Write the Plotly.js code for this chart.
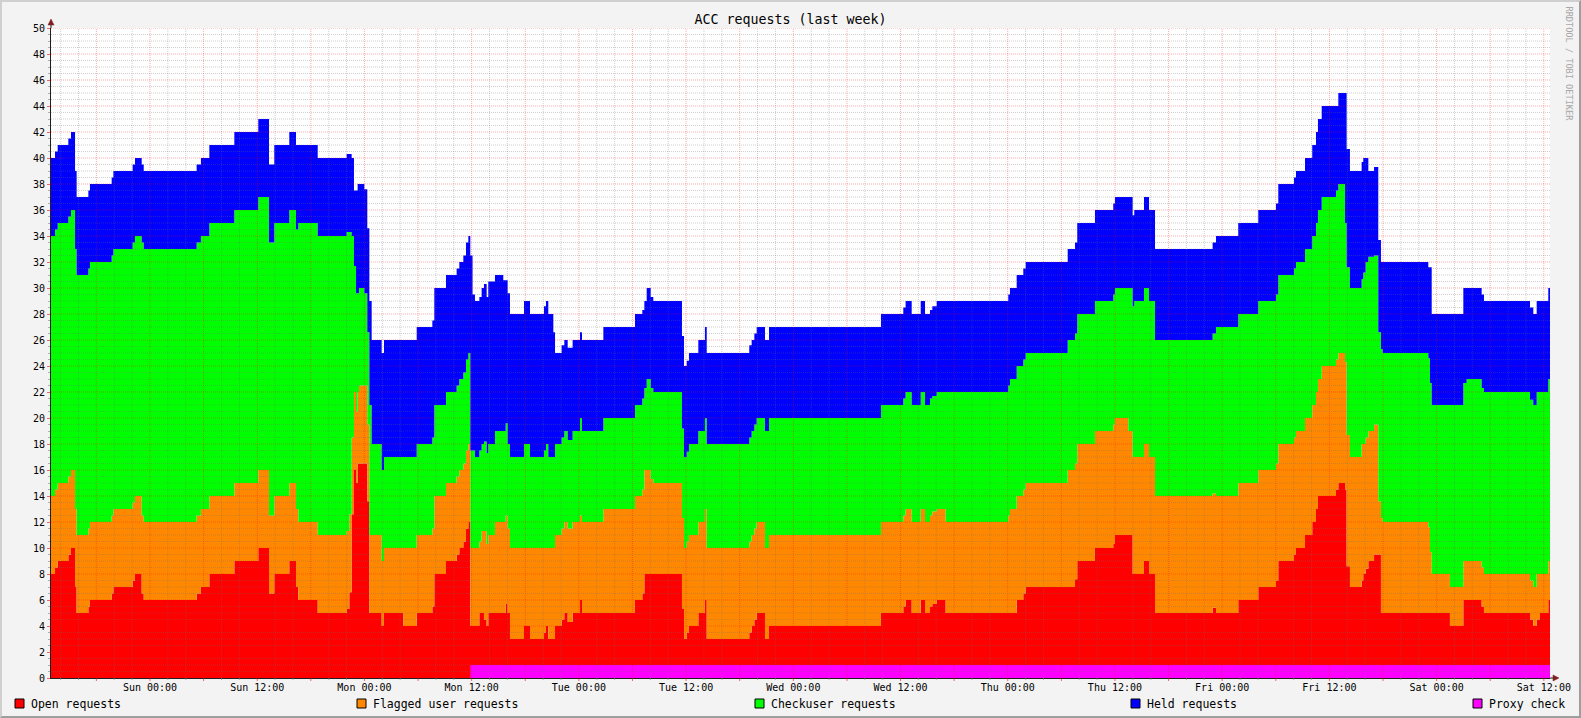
<!DOCTYPE html>
<html><head><meta charset="utf-8">
<script src="https://cdn.plot.ly/plotly-3.0.1.min.js"></script>
<style>
html,body{margin:0;padding:0;background:#f3f3f3;}
#frame{position:absolute;left:0;top:0;width:1581px;height:718px;box-sizing:border-box;border-top:2px solid #cfcfcf;border-left:2px solid #cfcfcf;border-right:2px solid #9e9e9e;border-bottom:2px solid #9e9e9e;background:#f3f3f3;}
#chart{width:1577px;height:714px;}
</style></head><body><div id="frame"><div id="chart"></div></div>
<script>
// time of each sample, in hours relative to Sunday 00:00
const hours = [
-11.08,-10.63,-10.33,-9.14,-8.84,-8.39,-8.21,-6.90,-6.72,-4.29,
-4.10,-1.94,-1.68,-0.93,-0.70,5.22,5.70,6.64,9.44,12.12,
13.32,13.91,15.59,16.34,16.60,18.77,22.01,22.31,22.57,22.83,
23.06,23.24,23.39,23.99,24.32,24.55,24.81,25.93,26.19,28.35,
29.85,31.60,31.82,33.13,34.32,34.62,35.07,35.37,35.63,35.85,
36.10,36.37,36.86,37.12,37.38,37.68,37.86,38.61,39.54,39.81,
40.03,40.29,41.86,42.53,44.10,44.32,44.58,45.14,45.33,46.07,
46.37,46.75,47.30,48.13,48.35,50.74,54.28,55.10,55.33,55.59,
56.04,56.33,59.54,59.77,60.07,60.32,61.37,62.11,62.31,67.07,
67.34,67.64,67.90,68.83,69.28,81.81,84.31,84.57,85.25,86.26,
86.74,87.30,87.56,88.05,89.05,96.06,96.25,97.00,97.74,98.01,
102.71,103.53,103.78,105.76,107.81,108.00,109.49,109.98,110.16,111.25,
111.81,112.48,118.93,119.31,121.80,124.04,126.02,126.28,128.04,128.26,
129.27,130.08,130.50,130.72,131.14,132.74,133.00,133.75,133.93,134.30,
135.61,135.79,136.06,136.36,137.00,137.47,137.77,137.96,143.07,143.26,
143.45,145.49,146.99,147.36,149.04,149.30,154.45,154.82,155.20,155.57,
156.50,156.69];

const openReq = [
8,8.5,9,9.5,10,7,5,5.5,6,6.5,
7,7.5,8,6.5,6,6.5,7,8,9,10,
6.5,8,9,7,6,5,5.3,6.6,12.6,16,
15,16.5,16.5,16.5,13.6,5,5,4,5,4,
5,5.5,8,9,9.5,10,10.5,11.5,12,4,
4,4,5,5,4.5,4,5,5,5,5.7,
5,3,4,3,3.5,4,3,3,4,4.5,
5,4.3,5,6,5,5,6,6.5,8,8,
8,8,5.3,3,3.5,4,5,6,3,3.5,
4,4.5,5,3,4,5,5.5,6,5,6,
5,5.5,5.7,6,5,5,5,6,6.5,7,
7,7.6,9,10,10.3,11,11,8,8,9,
8,5,5.4,5,6,7,7.5,9,9.5,10,
11,12,13,14,14,14.5,15,14.5,8.6,7,
7.5,8,8.4,9,9.5,9.5,5,5,5,5,
5,4,6,6,5.5,5,4.5,4,4.5,5,
6,6];

const flaggedReq = [
6,6,6,6,6,6,6,6,6,6,
6,6,6,6,6,6,6,6,6,6,
6,6,6,6,6,6,6,6,5.9,6,
5.5,5.5,6,6,5.9,6,6,5,5,6,
6,6,6,6,6,6,6,6,6,6,
6,6,5.5,6.3,6.8,6.3,6,7,7,6.8,
6.5,7,6,7,6.5,6,7,7,7,7,
7,7.2,7,6.5,7,8,8,8,8,8,
7.3,7,7,7,7,7,7,7,7,7,
7,7,7,7,7,7,7,7,7,7,
7,7,7.1,7,7,7.5,8,8,8,8,
9,8.9,9,9,9.2,9,8,9,9,9,
9,9,8.8,9,9,9,9,9,9,9,
9,9,9,9,10,10,10,9.8,10.1,10,
10.5,10,10.1,10,10,4.1,7.3,7,6.6,4.7,
3,3,3,3,3,3,3,3,3.5,3,
3,3];

const checkuserReq = [
20,20,20,20,20,20,20,20,20,20,
20,20,20,21,21,21,21,21,21,21,
21,21,21,21.5,23,23,23,21.7,15.5,9.7,
9.1,7.6,7.5,7.1,7.1,10,7,7,7,7,
7,7,7,7,7,7,7,7,7,7.5,
7.5,7,7,6.7,6.9,7,7,7,7,7.1,
6.5,7,8,7,7.5,8,7,7,7,7,
7,6.8,7,7.5,7,7,7,7,6.3,7,
7,7,6.9,7,6.9,7,7,7,8,8,
8,8,8,9,9,9,9,9,9,9,
9,9,8.9,9,10,10,10,10,10,10,
10,10,10,10,10,10,11,11.6,12,12,
12,12,12.3,13,13,13,13,13,13,13,
13,13,13,13,13,13,13,10.7,12.9,13,
12.7,13.2,13.5,13.4,13,13,13,13,13,13,
13,14,13.7,14,13.8,14,13.9,14,14,14,
14,14];

const heldReq = [
6,6,6,6,6,6,6,6,6,6,
6,6,6,6,6,6,6,6,6,6,
6,6,6,6.5,6,6,6,6,6,5.8,
7.9,8.4,8,8,8,8,8,9,9,9,
9,9,9,9,9,9,9,9,9,15,
12,12,11.8,12,12.1,12,12.5,12,11.6,11,
11.6,11,11,11,11.1,11,11,9.6,7,7.1,
7,7.1,7,6.6,7,7,7,6.8,6.7,7,
7,7,7.1,7,7,7,7,7,7,7.1,
7,7,7,7,7,7,7,7,7,7,
7,6.8,6.9,7,7,7,7,7,7,7,
7,7,7,7,7,7,7,7,7,7,
7,7,7,7,7,7,7,7,7,7,
7,7,7,7,7,6.5,7,10,9.1,9,
9,8.8,8,6.6,6.8,7.1,6.7,7,7,8.9,
7,7,7.3,7,7.2,7,7.1,7,7,7,
7,7];

const proxyCheck = [
0,0,0,0,0,0,0,0,0,0,
0,0,0,0,0,0,0,0,0,0,
0,0,0,0,0,0,0,0,0,0,
0,0,0,0,0,0,0,0,0,0,
0,0,0,0,0,0,0,0,0,1,
1,1,1,1,1,1,1,1,1,1,
1,1,1,1,1,1,1,1,1,1,
1,1,1,1,1,1,1,1,1,1,
1,1,1,1,1,1,1,1,1,1,
1,1,1,1,1,1,1,1,1,1,
1,1,1,1,1,1,1,1,1,1,
1,1,1,1,1,1,1,1,1,1,
1,1,1,1,1,1,1,1,1,1,
1,1,1,1,1,1,1,1,1,1,
1,1,1,1,1,1,1,1,1,1,
1,1,1,1,1,1,1,1,1,1,
1,1];

const seriesNames = ['Open requests','Flagged user requests','Checkuser requests','Held requests','Proxy check'];
const seriesColors = ['#ff0000','#ff8800','#00ff00','#0000ff','#ff00ff'];

const xTickHours = [0,12,24,36,48,60,72,84,96,108,120,132,144,156];
const xTickLabels = ['Sun 00:00','Sun 12:00','Mon 00:00','Mon 12:00','Tue 00:00','Tue 12:00',
  'Wed 00:00','Wed 12:00','Thu 00:00','Thu 12:00','Fri 00:00','Fri 12:00','Sat 00:00','Sat 12:00'];

const chartTitle = 'ACC requests (last week)';
const sideText = 'RRDTOOL / TOBI OETIKER';

// ---------- helpers ----------
const BASE = Date.UTC(2024,0,7,0,0,0); // a Sunday 00:00
function toDate(h){ return new Date(BASE + h*3600000).toISOString().slice(0,19).replace('T',' '); }
const times = hours.map(toDate);
const startH = hours[0], endH = hours[hours.length-1];

// page pixel -> paper coords (plot area: left 51, top 28, width 1499, height 650 in page)
const PL=51, PT=28, PW=1499, PH=650;
const px = X => (X-PL)/PW;
const py = Y => (PT+PH-Y)/PH;

const FONT = 'DejaVu Sans Mono, monospace';

const values = [openReq, flaggedReq, checkuserReq, heldReq];
const traces = values.map((v,i)=>({
  x: times, y: v, type:'scatter', mode:'lines', stackgroup:'acc',
  line:{width:0, shape:'hv'}, fillcolor: seriesColors[i],
  name: seriesNames[i], hoverinfo:'skip', showlegend:false
}));
traces.push({
  x: times, y: proxyCheck, type:'scatter', mode:'lines', fill:'tozeroy',
  line:{width:0, shape:'hv'}, fillcolor: seriesColors[4],
  name: seriesNames[4], hoverinfo:'skip', showlegend:false
});

// ---------- grid drawn above the areas (as rrdtool does) ----------
const shapes = [];
const minorCol = 'rgba(110,110,110,0.32)', majorCol = 'rgba(255,0,0,0.33)';
for (let h = Math.ceil(startH/2)*2; h <= endH; h += 2) {
  const major = (h % 6 === 0);
  shapes.push({type:'line', layer:'above', xref:'x', yref:'paper', x0:toDate(h), x1:toDate(h), y0:0, y1:1,
    line:{color: major?majorCol:minorCol, width:1, dash:'1px,1px'}});
  // small tick marks under the x axis
  shapes.push({type:'line', layer:'above', xref:'x', yref:'paper', x0:toDate(h), x1:toDate(h), y0:py(678), y1:py(major?681:680),
    line:{color: major?'rgba(255,0,0,0.6)':'rgba(128,128,128,0.6)', width:1}});
}
for (let k = 1; k <= 100; k++) {
  const v = k/2;
  const major = (k % 4 === 0);
  shapes.push({type:'line', layer:'above', xref:'paper', yref:'y', x0:0, x1:1, y0:v, y1:v,
    line:{color: major?majorCol:minorCol, width:1, dash:'1px,1px'}});
}
// axis arrows
const arrowCol = '#7f1f1f';
shapes.push({type:'line', layer:'above', xref:'paper', yref:'paper', x0:px(51), x1:px(51), y0:py(28), y1:py(24), line:{color:'#1f1f1f', width:1}});
shapes.push({type:'path', layer:'above', xref:'paper', yref:'paper',
  path:`M ${px(48)},${py(25)} L ${px(54)},${py(25)} L ${px(51)},${py(19)} Z`, fillcolor:arrowCol, line:{color:arrowCol, width:0.5}});
shapes.push({type:'line', layer:'above', xref:'paper', yref:'paper', x0:px(1550), x1:px(1554), y0:py(678), y1:py(678), line:{color:'#1f1f1f', width:1}});
shapes.push({type:'path', layer:'above', xref:'paper', yref:'paper',
  path:`M ${px(1553)},${py(675)} L ${px(1553)},${py(681)} L ${px(1559)},${py(678)} Z`, fillcolor:arrowCol, line:{color:arrowCol, width:0.5}});

// ---------- legend (rrdtool style) ----------
const legendBoxX = [15, 357, 755, 1131, 1473];
const annotations = [];
legendBoxX.forEach((bx,i)=>{
  shapes.push({type:'rect', xref:'paper', yref:'paper', x0:px(bx), x1:px(bx+9), y0:py(699), y1:py(708),
    fillcolor: seriesColors[i], line:{color:'#000', width:1}});
  annotations.push({xref:'paper', yref:'paper', x:px(bx+14), y:py(704), xanchor:'left', yanchor:'middle',
    text: seriesNames[i], showarrow:false, font:{family:FONT, size:11.5, color:'#000'}});
});
annotations.push({xref:'paper', yref:'paper', x:px(1569), y:py(4), xanchor:'center', yanchor:'top',
  text: sideText, textangle:90, showarrow:false, font:{family:FONT, size:8.6, color:'#a8a8a8'}});

// x ticks every 6h (labels every 12h)
const tickvals = [], ticktext = [];
for (let h = Math.ceil(startH/6)*6; h <= endH; h += 6) {
  tickvals.push(toDate(h));
  const idx = xTickHours.indexOf(h);
  ticktext.push(idx >= 0 ? xTickLabels[idx] : '');
}

const layout = {
  width:1577, height:714,
  margin:{l:49, r:29, t:26, b:38, pad:0},
  paper_bgcolor:'#f3f3f3', plot_bgcolor:'#ffffff',
  font:{family:FONT, size:10, color:'#000'},
  title:{text:chartTitle, font:{family:FONT, size:13.3, color:'#000'},
    x:0.5, xref:'container', xanchor:'center', y:1-17/714, yref:'container', yanchor:'middle'},
  showlegend:false,
  xaxis:{type:'date', range:[toDate(startH), toDate(endH)], tickmode:'array', tickvals, ticktext,
    showgrid:false, zeroline:false, showline:true, linecolor:'#1f1f1f', linewidth:1,
    ticks:'', tickfont:{family:FONT, size:10},
    fixedrange:true},
  yaxis:{range:[0,50], tickmode:'linear', tick0:0, dtick:2, showgrid:false, zeroline:false,
    showline:true, linecolor:'#1f1f1f', linewidth:1, ticks:'outside', ticklen:3, tickcolor:'rgba(255,0,0,0.6)',
    tickfont:{family:FONT, size:10},
    minor:{dtick:0.5, ticks:'outside', ticklen:2, tickcolor:'rgba(128,128,128,0.6)', showgrid:false},
    fixedrange:true},
  shapes, annotations
};

Plotly.newPlot('chart', traces, layout, {staticPlot:true, displayModeBar:false});
</script></body></html>
